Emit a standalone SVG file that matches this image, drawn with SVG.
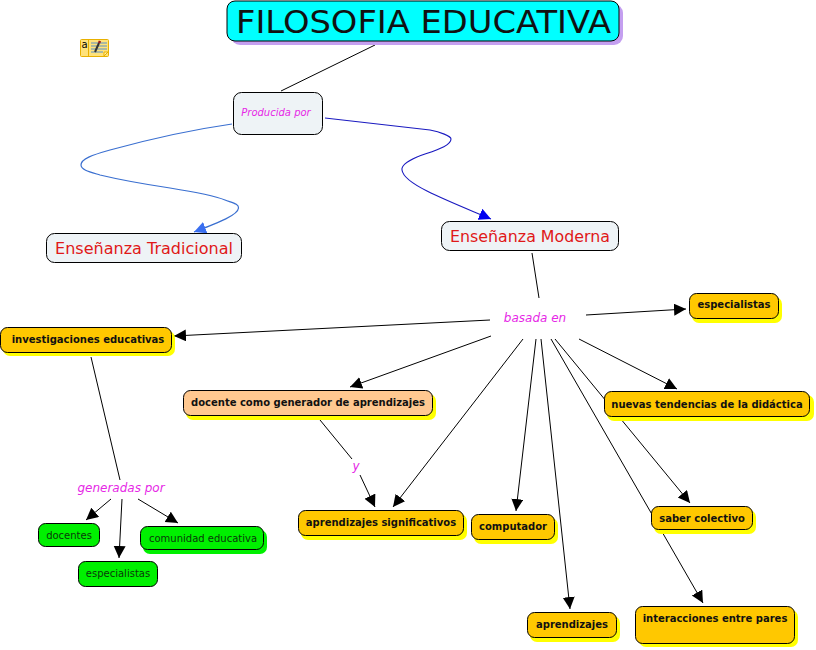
<svg xmlns="http://www.w3.org/2000/svg" width="816" height="650" viewBox="0 0 816 650">
<style>
text{font-family:"DejaVu Sans","Liberation Sans",sans-serif;text-anchor:middle}
.l{fill:none;stroke:#000;stroke-width:1;marker-end:url(#a)}
.n{fill:none;stroke:#000;stroke-width:1}
.o{fill:#ffc800;stroke:#000;stroke-width:1}
.ys{fill:#ffff00}
.g{fill:#00f000;stroke:#000;stroke-width:1}
.w{fill:#eef3f6;stroke:#000;stroke-width:1}
.b{font-size:10px;font-weight:bold;fill:#111}
.gt{font-size:10px;fill:#0a3a0a}
.r{font-size:15px;fill:#e01818}
.m{font-style:italic;fill:#e628e6}
</style>
<defs>
<marker id="a" markerUnits="userSpaceOnUse" markerWidth="13" markerHeight="13" refX="12" refY="6" orient="auto"><path d="M0 0L12 6L0 12Z" fill="#000"/></marker>
<marker id="c" markerUnits="userSpaceOnUse" markerWidth="13" markerHeight="13" refX="12" refY="6" orient="auto"><path d="M0 0L12 6L0 12Z" fill="#3a6ff0"/></marker>
<marker id="d" markerUnits="userSpaceOnUse" markerWidth="13" markerHeight="13" refX="12" refY="6" orient="auto"><path d="M0 0L12 6L0 12Z" fill="#0000f0"/></marker>
</defs>
<g id="connectors">
<path class="n" d="M375 45L281 91"/>
<path fill="none" stroke="#3a6fd0" stroke-width="1.2" marker-end="url(#c)" d="M232 124C190 130 150 139 110 150C92 155 81 159 81 165C81 170 90 172 100 175C125 181 150 185 170 188C195 192 215 196 225 200C233 203 239 204 238.500 208C238 215 220 222 194 232"/>
<path fill="none" stroke="#1a1ac0" stroke-width="1.1" marker-end="url(#d)" d="M325 118L430 130C440 132 451 136 451 139C451 146 436 150 417 157C408 161 401 165 402 170C403 178 415 185 427 191C447 201 470 210 491 219"/>
<path class="n" d="M532 253L539 298"/>
<path class="l" d="M490 320L174 336"/>
<path class="l" d="M586 315L686 309"/>
<path class="l" d="M491 336L350 387"/>
<path class="l" d="M523 339L393 507"/>
<path class="l" d="M536 339L516 511"/>
<path class="l" d="M541 339L570 609"/>
<path class="l" d="M551 339L703 603"/>
<path class="l" d="M555 339L690 503"/>
<path class="l" d="M579 339L677 389"/>
<path class="n" d="M91 357L120 480"/>
<path class="l" d="M111 499L86 520"/>
<path class="l" d="M122 499L119 558"/>
<path class="l" d="M138 499L178 523"/>
<path class="n" d="M320 420L352 459"/>
<path class="l" d="M360 475L375 507"/>
</g>
<g id="title"><rect x="231" y="4" width="392" height="41" rx="9" fill="#c49ff0"/><rect x="227" y="1" width="392" height="40" rx="8" fill="#00ffff" stroke="#000"/><text x="423.500" y="33" font-size="32" fill="#111" textLength="375" lengthAdjust="spacingAndGlyphs">FILOSOFIA EDUCATIVA</text></g>
<g id="icon"><rect x="80.500" y="39.500" width="28" height="17" rx="1" fill="#ffe27a" stroke="#e8b000"/><path d="M88.500 40V56" stroke="#e8b000"/><path d="M91 43H107M91 46H107M91 49H107M91 52H103" stroke="#5a90c8"/><path d="M95 52L99 43" stroke="#333" stroke-width="2"/><path d="M99 43L100 41" stroke="#a01818" stroke-width="2.500"/><path d="M104 56L108 52H104Z" fill="#fff2b0" stroke="#e8b000"/><text x="84.500" y="47.500" font-size="10" fill="#000">a</text></g>
<g id="producida"><rect class="w" x="233.500" y="92.500" width="89" height="42" rx="8"/><text class="m" x="276" y="116" font-size="10">Producida por</text></g>
<g id="tradicional"><rect class="w" x="46.500" y="233.500" width="195" height="29" rx="8"/><text class="r" x="144" y="254" textLength="178" lengthAdjust="spacingAndGlyphs">Enseñanza Tradicional</text></g>
<g id="moderna"><rect class="w" x="441.500" y="221.500" width="177" height="29" rx="8"/><text class="r" x="530" y="242" textLength="160" lengthAdjust="spacingAndGlyphs">Enseñanza Moderna</text></g>
<g id="basada"><text class="m" x="535" y="322" font-size="12">basada en</text></g>
<g id="investigaciones"><rect class="ys" x="3" y="331" width="172" height="25" rx="7"/><rect class="o" x="0.500" y="327.500" width="171" height="25" rx="7"/><text class="b" x="88" y="342.500">investigaciones educativas</text></g>
<g id="especialistas1"><rect class="ys" x="692" y="297" width="90" height="26" rx="7"/><rect class="o" x="689.500" y="293.500" width="89" height="25" rx="7"/><text class="b" x="734" y="308">especialistas</text></g>
<g id="nuevas"><rect class="ys" x="607" y="395" width="207" height="26" rx="7"/><rect class="o" x="604.500" y="391.500" width="205" height="25" rx="7"/><text class="b" x="707" y="408">nuevas tendencias de la didáctica</text></g>
<g id="docente"><rect class="ys" x="186" y="394" width="250" height="26" rx="7"/><rect x="183.500" y="390.500" width="249" height="25" rx="7" fill="#ffc890" stroke="#000"/><text class="b" x="308" y="406">docente como generador de aprendizajes</text></g>
<g id="significativos"><rect class="ys" x="301" y="514" width="166" height="26" rx="7"/><rect class="o" x="298.500" y="510.500" width="165" height="25" rx="7"/><text class="b" x="381" y="526">aprendizajes significativos</text></g>
<g id="computador"><rect class="ys" x="474" y="518" width="84" height="26" rx="7"/><rect class="o" x="471.500" y="514.500" width="83" height="25" rx="7"/><text class="b" x="513" y="530">computador</text></g>
<g id="saber"><rect class="ys" x="654" y="510" width="102" height="24" rx="7"/><rect class="o" x="651.500" y="506.500" width="101" height="23" rx="7"/><text class="b" x="702" y="522">saber colectivo</text></g>
<g id="aprendizajes"><rect class="ys" x="530" y="616" width="90" height="26" rx="7"/><rect class="o" x="527.500" y="612.500" width="89" height="25" rx="7"/><text class="b" x="572" y="628">aprendizajes</text></g>
<g id="interacciones"><rect class="ys" x="639" y="610" width="159" height="37" rx="7"/><rect class="o" x="635.500" y="606.500" width="159" height="37" rx="7"/><text class="b" x="715" y="622">interacciones entre pares</text></g>
<g id="generadas"><text class="m" x="121" y="492" font-size="12">generadas por</text></g>
<g id="docentes"><rect class="g" x="38.500" y="523.500" width="61" height="23" rx="7"/><text class="gt" x="69" y="539">docentes</text></g>
<g id="comunidad"><rect x="143" y="530" width="124" height="24" rx="7" fill="#00f000"/><rect class="g" x="140.500" y="526.500" width="123" height="23" rx="7"/><text class="gt" x="203" y="542">comunidad educativa</text></g>
<g id="especialistas2"><rect class="g" x="78.500" y="561.500" width="79" height="25" rx="7"/><text class="gt" x="118" y="577">especialistas</text></g>
<g id="y"><text class="m" x="356" y="470" font-size="12">y</text></g>
</svg>
